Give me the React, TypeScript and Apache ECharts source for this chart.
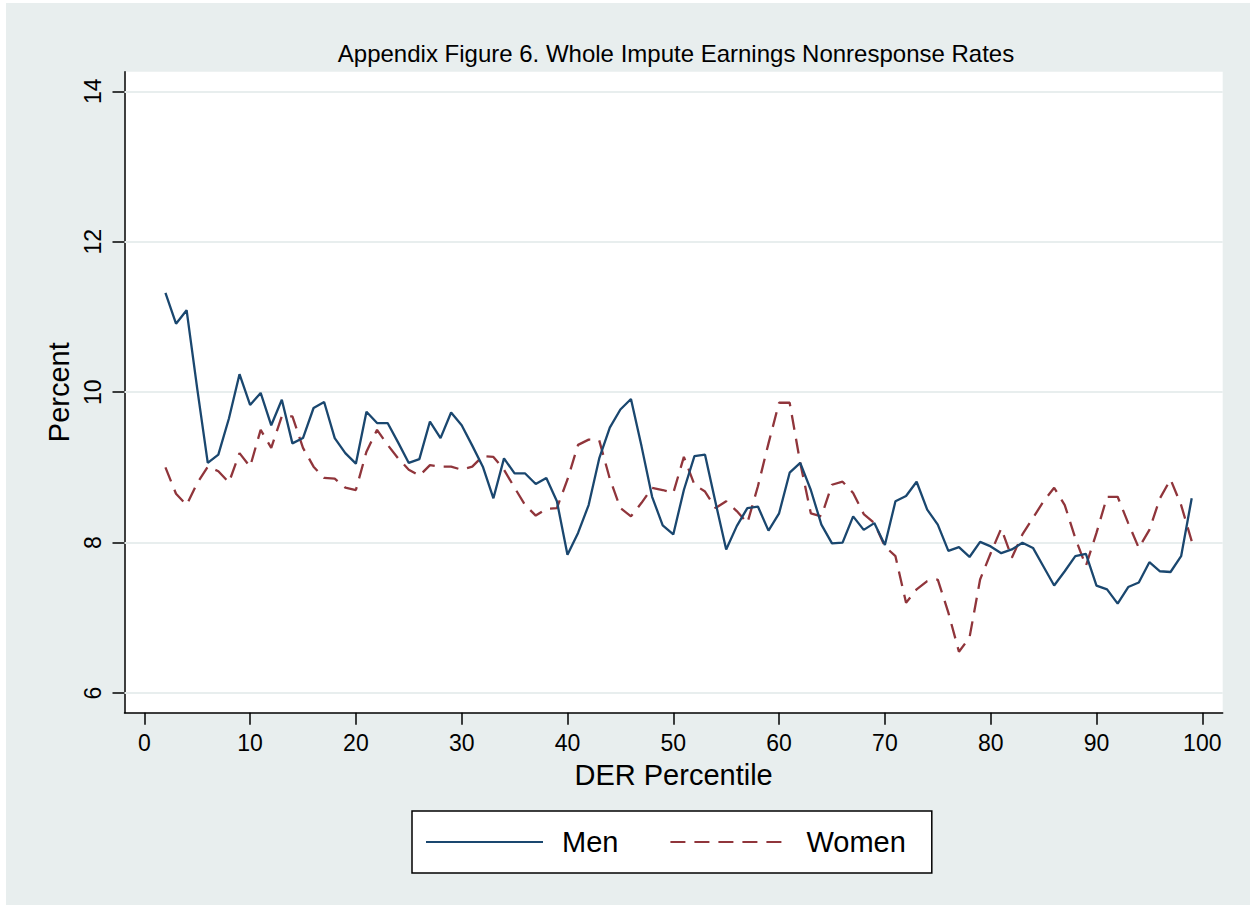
import React, { useEffect, useRef } from "react";
import * as echarts from "echarts";

const percentiles: number[] = [
  2, 3, 4, 5, 6, 7, 8, 9, 10, 11, 12, 13, 14, 15, 16, 17, 18, 19, 20, 21,
  22, 23, 24, 25, 26, 27, 28, 29, 30, 31, 32, 33, 34, 35, 36, 37, 38, 39, 40, 41,
  42, 43, 44, 45, 46, 47, 48, 49, 50, 51, 52, 53, 54, 55, 56, 57, 58, 59, 60, 61,
  62, 63, 64, 65, 66, 67, 68, 69, 70, 71, 72, 73, 74, 75, 76, 77, 78, 79, 80, 81,
  82, 83, 84, 85, 86, 87, 88, 89, 90, 91, 92, 93, 94, 95, 96, 97, 98, 99,
];

const men: number[] = [
  11.32, 10.91, 11.09, 10.05, 9.06, 9.17, 9.65, 10.24, 9.83, 9.99,
  9.56, 9.9, 9.32, 9.39, 9.79, 9.87, 9.39, 9.19, 9.05, 9.74,
  9.59, 9.59, 9.33, 9.06, 9.11, 9.61, 9.39, 9.73, 9.56, 9.29,
  9.01, 8.59, 9.12, 8.92, 8.92, 8.78, 8.86, 8.55, 7.84, 8.13,
  8.5, 9.12, 9.53, 9.77, 9.91, 9.28, 8.61, 8.23, 8.11, 8.7,
  9.15, 9.17, 8.53, 7.91, 8.22, 8.46, 8.48, 8.16, 8.39, 8.93,
  9.06, 8.7, 8.24, 7.99, 8.0, 8.35, 8.17, 8.26, 7.97, 8.55,
  8.62, 8.81, 8.44, 8.24, 7.89, 7.94, 7.81, 8.01, 7.95, 7.86,
  7.91, 8.0, 7.93, 7.68, 7.43, 7.62, 7.82, 7.85, 7.43, 7.38,
  7.19, 7.41, 7.47, 7.74, 7.62, 7.61, 7.82, 8.59,
];

const women: number[] = [
  9.0, 8.65, 8.5, 8.79, 9.01, 8.95, 8.8, 9.19, 9.01, 9.5,
  9.26, 9.68, 9.68, 9.26, 9.01, 8.86, 8.85, 8.73, 8.7, 9.21,
  9.5, 9.3, 9.12, 8.97, 8.89, 9.03, 9.01, 9.01, 8.97, 9.01,
  9.15, 9.14, 8.97, 8.73, 8.5, 8.36, 8.45, 8.46, 8.84, 9.3,
  9.37, 9.36, 8.85, 8.46, 8.35, 8.53, 8.73, 8.7, 8.66, 9.14,
  8.77, 8.68, 8.46, 8.55, 8.42, 8.26, 8.75, 9.32, 9.86, 9.86,
  9.06, 8.39, 8.35, 8.77, 8.81, 8.66, 8.38, 8.26, 7.95, 7.82,
  7.2, 7.38, 7.49, 7.51, 7.07, 6.55, 6.74, 7.51, 7.86, 8.19,
  7.8, 8.11, 8.33, 8.55, 8.73, 8.5, 8.06, 7.69, 8.13, 8.61,
  8.61, 8.26, 7.93, 8.17, 8.59, 8.84, 8.5, 8.02,
];

const xTicks: number[] = [0, 10, 20, 30, 40, 50, 60, 70, 80, 90, 100];
const yTicks: number[] = [6, 8, 10, 12, 14];

const FONT = "'Liberation Sans', Arial, Helvetica, sans-serif";
const BG = "#e8eeee";
const GRIDLINE = "#e8eeee";

export default function App() {
  const ref = useRef<HTMLDivElement>(null);

  useEffect(() => {
    if (!ref.current) return;
    const chart = echarts.init(ref.current, null, { renderer: "svg" });
    const menData = percentiles.map((p, i) => [p, men[i]]);
    const womenData = percentiles.map((p, i) => [p, women[i]]);

    chart.setOption({
      animation: false,
      backgroundColor: "#ffffff",
      textStyle: { fontFamily: FONT },
      graphic: [
        {
          type: "rect",
          z: -10,
          silent: true,
          shape: { x: 6, y: 3, width: 1250, height: 905 },
          style: { fill: BG },
        },
      ],
      title: {
        text: "Appendix Figure 6. Whole Impute Earnings Nonresponse Rates",
        left: 671,
        top: 36,
        textAlign: "center",
        textStyle: {
          fontFamily: FONT,
          fontSize: 24,
          fontWeight: "normal",
          color: "#000",
        },
      },
      legend: {
        left: 412,
        top: 811,
        orient: "horizontal",
        padding: [16, 26, 16, 13],
        itemWidth: 117,
        itemHeight: 14,
        itemGap: 51,
        borderColor: "#000",
        borderWidth: 1.5,
        backgroundColor: "#fff",
        itemStyle: { opacity: 0, borderWidth: 0 },
        textStyle: {
          fontFamily: FONT,
          fontSize: 29,
          lineHeight: 30,
          color: "#000",
          padding: [0, 0, 0, 14],
        },
        data: ["Men", "Women"],
      },
      grid: {
        left: 124.5,
        top: 71.7,
        right: 27.3,
        bottom: 192.3,
        show: true,
        backgroundColor: "#fff",
        borderWidth: 0,
      },
      xAxis: {
        type: "value",
        min: -1.87,
        max: 101.93,
        name: "DER Percentile",
        nameLocation: "middle",
        nameGap: 48,
        nameTextStyle: { fontFamily: FONT, fontSize: 29, color: "#000" },
        axisLine: { show: true, onZero: false, lineStyle: { color: "#000", width: 1.5 } },
        axisTick: { show: true, length: 12, customValues: xTicks, lineStyle: { color: "#000", width: 1.5 } },
        axisLabel: { fontFamily: FONT, fontSize: 23, color: "#000", margin: 19, customValues: xTicks },
        splitLine: { show: false },
      },
      yAxis: {
        type: "value",
        min: 5.74,
        max: 14.26,
        name: "Percent",
        nameLocation: "middle",
        nameGap: 50,
        nameRotate: 90,
        nameTextStyle: { fontFamily: FONT, fontSize: 29, color: "#000" },
        axisLine: { show: true, onZero: false, lineStyle: { color: "#000", width: 1.5 } },
        axisTick: { show: true, length: 12, customValues: yTicks, lineStyle: { color: "#000", width: 1.5 } },
        axisLabel: { fontFamily: FONT, fontSize: 23, color: "#000", margin: 20, rotate: 90, customValues: yTicks },
        splitLine: { show: false },
      },
      series: [
        {
          name: "Men",
          type: "line",
          data: menData,
          symbol: "none",
          color: "#1a476f",
          lineStyle: { color: "#1a476f", width: 2.3 },
          z: 3,
          markLine: {
            silent: true,
            symbol: "none",
            label: { show: false },
            lineStyle: { color: GRIDLINE, width: 2, type: "solid" },
            z: 1,
            data: yTicks.map((v) => ({ yAxis: v })),
          },
        },
        {
          name: "Women",
          type: "line",
          data: womenData,
          symbol: "none",
          color: "#90353b",
          lineStyle: { color: "#90353b", width: 2.3, type: [15, 9] },
          z: 2,
        },
      ],
    });

    return () => chart.dispose();
  }, []);

  return (
    <div
      ref={ref}
      style={{ position: "fixed", left: 0, top: 0, width: 1250, height: 905 }}
    />
  );
}
